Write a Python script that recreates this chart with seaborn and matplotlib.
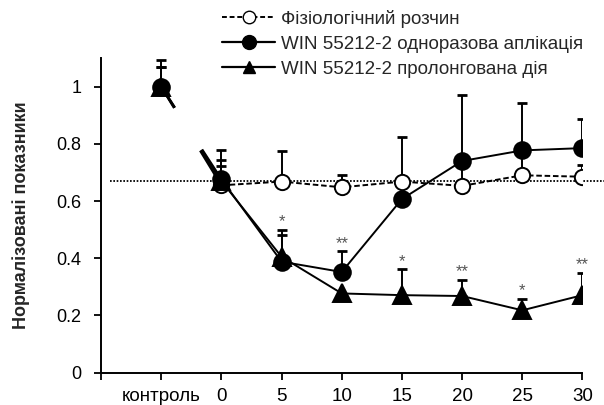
import numpy as np
import pandas as pd
import matplotlib
matplotlib.use("Agg")
import matplotlib.pyplot as plt
from matplotlib.lines import Line2D
import seaborn as sns

# ---------------- data ----------------
categories = ['контроль', '0', '5', '10', '15', '20', '25', '30']
saline = [1.0, 0.655, 0.668, 0.648, 0.668, 0.653, 0.690, 0.685]
saline_err = [0.07, 0.089, 0.106, 0.044, 0.155, 0.09, 0.085, 0.041]
single = [1.0, 0.676, 0.388, 0.352, 0.607, 0.740, 0.777, 0.785]
single_err = [0.094, 0.102, 0.110, 0.072, 0.0, 0.230, 0.165, 0.101]
prolonged = [1.0, 0.670, 0.405, 0.277, 0.271, 0.268, 0.218, 0.271]
prolonged_err = [0.07, 0.054, 0.077, 0.0, 0.090, 0.055, 0.040, 0.077]
sig_single = ['', '', '*', '**', '', '', '', '']
sig_prolonged = ['', '', '', '', '*', '**', '*', '**']
baseline = 0.67
labels = ['Фізіологічний розчин',
          'WIN 55212-2 одноразова аплікація',
          'WIN 55212-2 пролонгована дія']
yticks = [0, 0.2, 0.4, 0.6, 0.8, 1.0]
yticklabels = ['0', '0.2', '0.4', '0.6', '0.8', '1']

# ---------------- style ----------------
sns.set_style('ticks')
plt.rcParams['font.family'] = ['Liberation Sans', 'DejaVu Sans']
plt.rcParams['lines.scale_dashes'] = False

fig = plt.figure(figsize=(6.04, 4.05), dpi=100)
ax = fig.add_axes([0.1672, 0.0798, 0.7972, 0.777])

xpos = np.arange(len(categories))

series = [
    dict(y=saline, err=saline_err, marker='o', mfc='white', ms=11,
         ls=(0, (4, 2)), z=3),
    dict(y=prolonged, err=prolonged_err, marker='^', mfc='black', ms=12.5,
         ls='-', z=4),
    dict(y=single, err=single_err, marker='o', mfc='black', ms=12,
         ls='-', z=5),
]

for s in series:
    y = np.array(s['y'])
    err = np.array(s['err'])
    mask = err > 0
    ax.errorbar(xpos[mask], y[mask], yerr=[np.zeros(mask.sum()), err[mask]],
                fmt='none', ecolor='black', elinewidth=1.4, capsize=3.5,
                capthick=2.0, zorder=2)
    df = pd.DataFrame({'x': xpos[1:], 'y': y[1:]})
    sns.lineplot(data=df, x='x', y='y', ax=ax, color='black', lw=1.4,
                 linestyle=s['ls'], marker=s['marker'], markersize=s['ms'],
                 markerfacecolor=s['mfc'], markeredgecolor='black',
                 markeredgewidth=1.4, zorder=s['z'])
    # control point with broken connection to time 0
    dfc = pd.DataFrame({'x': xpos[:2], 'y': y[:2]})
    sns.lineplot(data=dfc, x='x', y='y', ax=ax, color='black', lw=1.8,
                 linestyle=(0, (18, 36, 100, 1)), marker=s['marker'],
                 markersize=s['ms'], markerfacecolor=s['mfc'],
                 markeredgecolor='black', markeredgewidth=1.4,
                 markevery=[0], zorder=s['z'])

# significance marks
for sig, vals, errs in [(sig_single, single, single_err),
                        (sig_prolonged, prolonged, prolonged_err)]:
    for xi, (t, v, e) in enumerate(zip(sig, vals, errs)):
        if t:
            ax.annotate(t, (xi, v + e), xytext=(0, 0.5),
                        textcoords='offset points', ha='center',
                        va='bottom', fontsize=12, color='#555555')

# dotted reference line
ax.axhline(baseline, xmin=0.019, xmax=1.046, color='black', lw=1.3,
           linestyle=(0, (1.2, 1.2)), clip_on=False, zorder=1)

# axes
ax.set_xlim(-1, len(categories) - 1)
ax.set_ylim(0, 1.1)
ax.set_xticks(np.arange(-1, len(categories)))
ax.set_xticklabels([''] + categories, fontsize=13.5)
ax.set_yticks(yticks)
ax.set_yticklabels(yticklabels, fontsize=13)
ax.tick_params(axis='x', length=5, width=1.3, pad=6, colors='black')
ax.tick_params(axis='y', length=5, width=1.3, pad=9, colors='black')
ax.set_xlabel('')
ax.set_ylabel('Нормалізовані показники', fontsize=13, fontweight='bold',
              labelpad=19)
sns.despine(ax=ax)
for sp in ['left', 'bottom']:
    ax.spines[sp].set_linewidth(1.4)
    ax.spines[sp].set_color('black')

# legend
handles = [
    Line2D([], [], color='black', lw=1.4, linestyle=(0, (3.5, 2)),
           marker='o', markersize=9, markerfacecolor='white',
           markeredgecolor='black'),
    Line2D([], [], color='black', lw=1.6, marker='o', markersize=10,
           markerfacecolor='black'),
    Line2D([], [], color='black', lw=1.6, marker='^', markersize=9,
           markerfacecolor='black'),
]
fig.legend(handles, labels, loc='upper left',
           bbox_to_anchor=(222 / 604, 1 - 10 / 405), frameon=False,
           fontsize=13.5, handlelength=2.85, handletextpad=0.3,
           borderpad=0, borderaxespad=0, labelspacing=0.42)

fig.savefig('out.png', dpi=100)
